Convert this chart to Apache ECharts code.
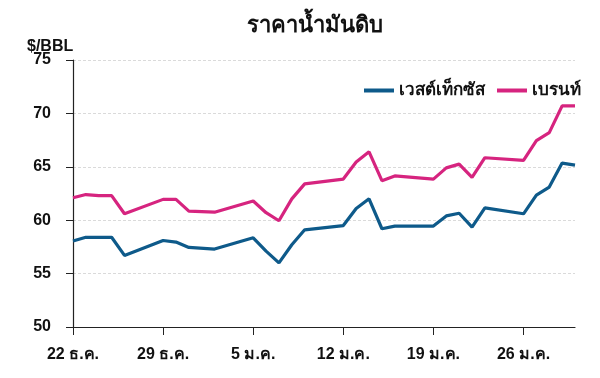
<!DOCTYPE html>
<html>
<head>
<meta charset="utf-8">
<script src="https://cdn.jsdelivr.net/npm/echarts@6/dist/echarts.min.js"></script>
<style>
  html, body { margin: 0; padding: 0; background: #fff; }
  #main { width: 600px; height: 378px; }
</style>
</head>
<body>
<div id="main"></div>
<script>
// วันนับจาก 22 ธ.ค.
var days = [0, 1, 2, 3, 4, 7, 8, 9, 11, 14, 15, 16, 17, 18, 21, 22, 23, 24, 25, 28, 29, 30, 31, 32, 35, 36, 37, 38, 39];
var wti = [58.05, 58.4, 58.4, 58.4, 56.7, 58.1, 57.95, 57.45, 57.3, 58.35, 57.1, 56.0, 57.7, 59.1,
  59.5, 61.1, 62.0, 59.2, 59.45, 59.45, 60.4, 60.65, 59.35, 61.15, 60.6, 62.35, 63.1, 65.35, 65.15];
var brent = [62.1, 62.4, 62.3, 62.3, 60.6, 61.95, 61.95, 60.85, 60.75, 61.8, 60.7, 59.95, 62.0, 63.4,
  63.85, 65.45, 66.4, 63.7, 64.15, 63.85, 64.9, 65.25, 64.0, 65.85, 65.6, 67.45, 68.2, 70.7, 70.7];
var tickDays = [0, 7, 14, 21, 28, 35];
var tickLabels = ['22 ธ.ค.', '29 ธ.ค.', '5 ม.ค.', '12 ม.ค.', '19 ม.ค.', '26 ม.ค.'];

function pairs(ys) {
  var out = [];
  for (var i = 0; i < days.length; i++) out.push([days[i], ys[i]]);
  return out;
}

var font = 'Liberation Sans, Arial, Noto Sans, sans-serif';
var chart = echarts.init(document.getElementById('main'));

chart.setOption({
  animation: false,
  title: [
    {
      text: 'ราคาน้ำมันดิบ',
      left: 310, top: 10, textAlign: 'center',
      textStyle: { fontFamily: font, fontSize: 22, fontWeight: 'bold', color: '#111' }
    },
    {
      text: '$/BBL',
      left: 22, top: 34,
      textStyle: { fontFamily: font, fontSize: 16, fontWeight: 'bold', color: '#111' }
    }
  ],
  legend: {
    right: 14, top: 77,
    itemWidth: 30, itemHeight: 4, itemGap: 12,
    icon: 'rect',
    textStyle: { fontFamily: font, fontSize: 17, fontWeight: 'bold', color: '#111' },
    data: ['เวสต์เท็กซัส', 'เบรนท์']
  },
  grid: { left: 73, right: 25, top: 60, bottom: 51, containLabel: false },
  xAxis: {
    type: 'value',
    min: 0, max: 39,
    axisLine: { lineStyle: { color: '#222', width: 1.2 } },
    axisTick: { customValues: tickDays, length: 8, lineStyle: { color: '#222' } },
    axisLabel: {
      customValues: tickDays,
      margin: 20,
      fontFamily: font, fontSize: 16, fontWeight: 'bold', color: '#111',
      formatter: function (v) { return tickLabels[tickDays.indexOf(v)] || ''; }
    },
    splitLine: { show: false }
  },
  yAxis: {
    type: 'value',
    min: 50, max: 75, interval: 5,
    axisLine: { show: true, lineStyle: { color: '#222', width: 1.2 } },
    axisTick: { show: true, inside: false, length: 7, lineStyle: { color: '#222' } },
    axisLabel: { margin: 22, fontFamily: font, fontSize: 16, fontWeight: 'bold', color: '#111' },
    splitLine: { lineStyle: { color: '#dadada', type: [3, 2], width: 1 } }
  },
  series: [
    {
      name: 'เวสต์เท็กซัส',
      type: 'line',
      data: pairs(wti),
      showSymbol: false,
      color: '#0e5a8a',
      lineStyle: { width: 3.2 }
    },
    {
      name: 'เบรนท์',
      type: 'line',
      data: pairs(brent),
      showSymbol: false,
      color: '#d6247f',
      lineStyle: { width: 3.2 }
    }
  ]
});
</script>
</body>
</html>
